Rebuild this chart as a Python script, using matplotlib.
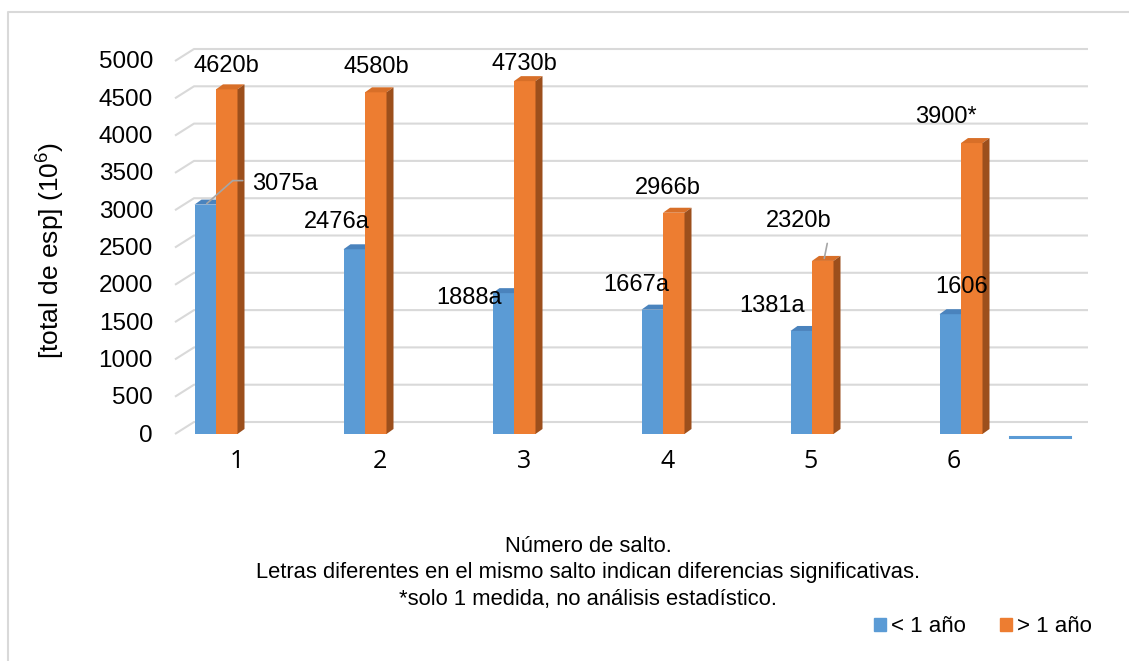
import matplotlib
matplotlib.use('Agg')
import matplotlib.pyplot as plt
import matplotlib.transforms as mtransforms
from matplotlib.patches import Polygon, Patch
from matplotlib.lines import Line2D

plt.rcParams['font.family'] = 'Liberation Sans'
plt.rcParams['mathtext.fontset'] = 'custom'
plt.rcParams['mathtext.rm'] = 'Liberation Sans'

# jump number vs. total spermatozoa (x10^6)
saltos = ['1', '2', '3', '4', '5', '6']
menor_1 = [3075, 2476, 1888, 1667, 1381, 1606]
mayor_1 = [4620, 4580, 4730, 2966, 2320, 3900]
etq_menor = ['3075a', '2476a', '1888a', '1667a', '1381a', '1606']
etq_mayor = ['4620b', '4580b', '4730b', '2966b', '2320b', '3900*']
yticks = list(range(0, 5001, 500))

BLUE, BLUE_TOP = '#5b9bd5', '#4a83bd'
ORANGE, ORANGE_TOP, ORANGE_SIDE = '#ed7d31', '#d86f28', '#9c4f1c'
GRID = '#d9d9d9'

W, H = 1129, 661
fig = plt.figure(figsize=(W / 100, H / 100), dpi=100)

# axes box in pixels: value 0 at y=434, 5000 at y=61, x from 175 to 1088
y0_pix, y5k_pix = 434, 61
px_per_unit = (y0_pix - y5k_pix) / 5000
pitch = 149.0   # pixels between jumps
x0_pix = 216.0  # pixel center of first jump
ax = fig.add_axes([175 / W, 1 - y0_pix / H, (1088 - 175) / W, (y0_pix - y5k_pix) / H])
ax.set_xlim((175 - x0_pix) / pitch, (1088 - x0_pix) / pitch)
ax.set_ylim(0, 5000)
ax.axis('off')

bw = 21.5 / pitch                         # bar width
dx, dy = 7 / pitch, 5 / px_per_unit       # bar depth
gx, gy = 19 / pitch, 12 / px_per_unit     # back wall offset

# back wall grid with perspective stub
xl, xr = ax.get_xlim()
for v in yticks:
    ax.plot([xl, xl + gx, xr], [v, v + gy, v + gy], color=GRID, lw=1.5,
            zorder=1, clip_on=False, solid_capstyle='butt')

xs = list(range(len(saltos)))
for i in xs:
    # blue bar (front + top)
    xb = i - bw
    vb = menor_1[i]
    ax.bar(xb, vb, bw, align='edge', color=BLUE, zorder=3, lw=0)
    ax.add_patch(Polygon([(xb, vb), (xb + dx, vb + dy), (xb + bw + dx, vb + dy), (xb + bw, vb)],
                         color=BLUE_TOP, lw=0, zorder=3, clip_on=False))
    # orange bar (front + top + side)
    xo = i
    v = mayor_1[i]
    ax.bar(xo, v, bw, align='edge', color=ORANGE, zorder=4, lw=0)
    ax.add_patch(Polygon([(xo, v), (xo + dx, v + dy), (xo + bw + dx, v + dy), (xo + bw, v)],
                         color=ORANGE_TOP, lw=0, zorder=4, clip_on=False))
    ax.add_patch(Polygon([(xo + bw, 0), (xo + bw + dx, dy), (xo + bw + dx, v + dy), (xo + bw, v)],
                         color=ORANGE_SIDE, lw=0, zorder=4, clip_on=False))

# stray series marker past the last jump
ax.plot([(1010 - x0_pix) / pitch, (1070 - x0_pix) / pitch], [-40, -40],
        color=BLUE, lw=2.2, clip_on=False, zorder=2)


def offset(px, py):
    return mtransforms.offset_copy(ax.transData, fig=fig, x=px, y=py, units='dots')


# label offsets (pixels, x right / y up) from each bar's front-top center
off_menor = [(80, 21), (-17, 27), (-34, -5), (-16, 25), (-29, 25), (11, 27)]
off_mayor = [(0, 23), (1, 25), (0, 17), (-6, 25), (-24, 40), (-26, 26)]
for i in xs:
    ax.text(i - bw / 2, menor_1[i], etq_menor[i], fontsize=17, ha='center', va='center',
            transform=offset(*off_menor[i]), zorder=6)
    ax.text(i + bw / 2, mayor_1[i], etq_mayor[i], fontsize=17, ha='center', va='center',
            transform=offset(*off_mayor[i]), zorder=6)

# leader lines
lc = '#a6a6a6'
line_kw = dict(arrowstyle='-', color=lc, lw=1.2, shrinkA=0, shrinkB=0)
pts = [(1.5, 1), (27.5, 24), (37.5, 24)]
for (a, b), (c, d) in zip(pts[:-1], pts[1:]):
    ax.annotate('', xy=(-bw / 2, menor_1[0]), xycoords=offset(a, b),
                xytext=(-bw / 2, menor_1[0]), textcoords=offset(c, d),
                arrowprops=line_kw, zorder=7)
ax.annotate('', xy=(4 + bw / 2, mayor_1[4]), xycoords=offset(1.5, 2.5),
            xytext=(4 + bw / 2, mayor_1[4]), textcoords=offset(4.5, 17.5),
            arrowprops=line_kw, zorder=7)

# category labels, slightly compressed spacing from the floor perspective
for i in xs:
    xt = (237 - x0_pix) / pitch + i * (143.4 / pitch)
    ax.text(xt, -(462 - y0_pix) / px_per_unit, saltos[i], fontsize=18,
            family='Open Sans', ha='center', va='center', clip_on=False)

# y tick labels
for v in yticks:
    ax.text(xl, v, str(v), fontsize=17.5, ha='right', va='center',
            transform=offset(-22, -1.5))

fig.text(50 / W, 1 - 250 / H, '[total de esp] (10$^{6}$)', rotation=90,
         fontsize=19, ha='center', va='center')

notas = ['Número de salto.',
         'Letras diferentes en el mismo salto indican diferencias significativas.',
         '*solo 1 medida, no análisis estadístico.']
for k, t in enumerate(notas):
    fig.text(588 / W, 1 - (546 + 26.5 * k) / H, t, fontsize=15.8, ha='center', va='center')

handles = [Patch(color=BLUE, label='< 1 año'), Patch(color=ORANGE, label='> 1 año')]
fig.legend(handles=handles, loc='center', bbox_to_anchor=(983 / W, 1 - 627 / H),
           ncol=2, frameon=False, fontsize=16, handlelength=0.55, handleheight=0.55,
           handletextpad=0.25, columnspacing=1.5)

# chart frame edges
fig.add_artist(Line2D([8 / W, 8 / W, 1], [0, 1 - 12 / H, 1 - 12 / H],
                      transform=fig.transFigure, color='#d9d9d9', lw=1.5))

fig.savefig('out.png', dpi=100)
